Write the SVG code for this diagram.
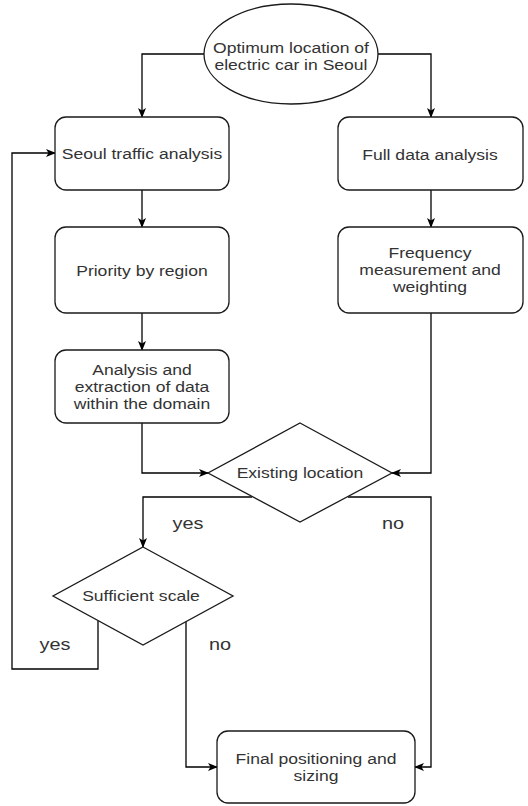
<svg xmlns="http://www.w3.org/2000/svg" width="528" height="806" viewBox="0 0 528 806">
<defs>
<style>
.shape{fill:#fff;stroke:#1a1a1a;stroke-width:1.3}
.conn{fill:none;stroke:#000;stroke-width:1.3}
.t{font-family:"Liberation Sans",Arial,sans-serif;font-size:15px;fill:#333;text-anchor:middle}
.lbl{font-family:"Liberation Sans",Arial,sans-serif;font-size:17px;fill:#333;text-anchor:middle}
</style>
<marker id="arr" markerUnits="userSpaceOnUse" markerWidth="10" markerHeight="10" viewBox="0 0 10 10" refX="9" refY="5" orient="auto">
<path d="M0,1 L10,5 L0,9 L2.5,5 Z" fill="#000"/>
</marker>
</defs>
<rect width="528" height="806" fill="#fff"/>
<g id="connectors">
<path class="conn" d="M204,54 H142 V117" marker-end="url(#arr)"/>
<path class="conn" d="M378,54 H431 V117" marker-end="url(#arr)"/>
<path class="conn" d="M142,190 V227" marker-end="url(#arr)"/>
<path class="conn" d="M431,190 V227" marker-end="url(#arr)"/>
<path class="conn" d="M142,313 V350" marker-end="url(#arr)"/>
<path class="conn" d="M142,423 V473 H208" marker-end="url(#arr)"/>
<path class="conn" d="M431,313 V473 H392" marker-end="url(#arr)"/>
<path class="conn" d="M252,497 H143 V547" marker-end="url(#arr)"/>
<path class="conn" d="M348,497 H431 V767 H415" marker-end="url(#arr)"/>
<path class="conn" d="M98,621 V669 H12 V153 H55" marker-end="url(#arr)"/>
<path class="conn" d="M186,621 V767 H217" marker-end="url(#arr)"/>
<text class="lbl" x="188" y="529" transform="translate(188 0) scale(1.17 1) translate(-188 0)">yes</text>
<text class="lbl" x="393" y="529" transform="translate(393 0) scale(1.17 1) translate(-393 0)">no</text>
<text class="lbl" x="55" y="650" transform="translate(55 0) scale(1.17 1) translate(-55 0)">yes</text>
<text class="lbl" x="220" y="650" transform="translate(220 0) scale(1.17 1) translate(-220 0)">no</text>
</g>
<g id="start">
<ellipse class="shape" cx="291" cy="54" rx="87" ry="50"/>
<g transform="translate(291 0) scale(1.17 1) translate(-291 0)">
<text class="t" x="291" y="53">Optimum location of</text>
<text class="t" x="291" y="70">electric car in Seoul</text>
</g>
</g>
<g id="seoul-traffic">
<rect class="shape" x="55" y="117" width="174" height="73" rx="11"/>
<text class="t" x="142" y="159" transform="translate(142 0) scale(1.17 1) translate(-142 0)">Seoul traffic analysis</text>
</g>
<g id="full-data">
<rect class="shape" x="338" y="117" width="185" height="73" rx="11"/>
<text class="t" x="430" y="160" transform="translate(430 0) scale(1.17 1) translate(-430 0)">Full data analysis</text>
</g>
<g id="priority">
<rect class="shape" x="55" y="227" width="174" height="86" rx="11"/>
<text class="t" x="142" y="276" transform="translate(142 0) scale(1.17 1) translate(-142 0)">Priority by region</text>
</g>
<g id="frequency">
<rect class="shape" x="338" y="227" width="185" height="86" rx="11"/>
<g transform="translate(430 0) scale(1.17 1) translate(-430 0)">
<text class="t" x="430" y="258">Frequency</text>
<text class="t" x="430" y="275">measurement and</text>
<text class="t" x="430" y="292">weighting</text>
</g>
</g>
<g id="analysis">
<rect class="shape" x="55" y="350" width="174" height="73" rx="11"/>
<g transform="translate(142 0) scale(1.17 1) translate(-142 0)">
<text class="t" x="142" y="375">Analysis and</text>
<text class="t" x="142" y="392">extraction of data</text>
<text class="t" x="142" y="409">within the domain</text>
</g>
</g>
<g id="existing">
<polygon class="shape" points="300,423 392,473 300,522 208,473"/>
<text class="t" x="300" y="478" transform="translate(300 0) scale(1.17 1) translate(-300 0)">Existing location</text>
</g>
<g id="sufficient">
<polygon class="shape" points="143,547 233,596 143,645 53,596"/>
<text class="t" x="141" y="601" transform="translate(141 0) scale(1.17 1) translate(-141 0)">Sufficient scale</text>
</g>
<g id="final">
<rect class="shape" x="217" y="731" width="198" height="72" rx="11"/>
<g transform="translate(316 0) scale(1.17 1) translate(-316 0)">
<text class="t" x="316" y="764">Final positioning and</text>
<text class="t" x="316" y="781">sizing</text>
</g>
</g>
</svg>
